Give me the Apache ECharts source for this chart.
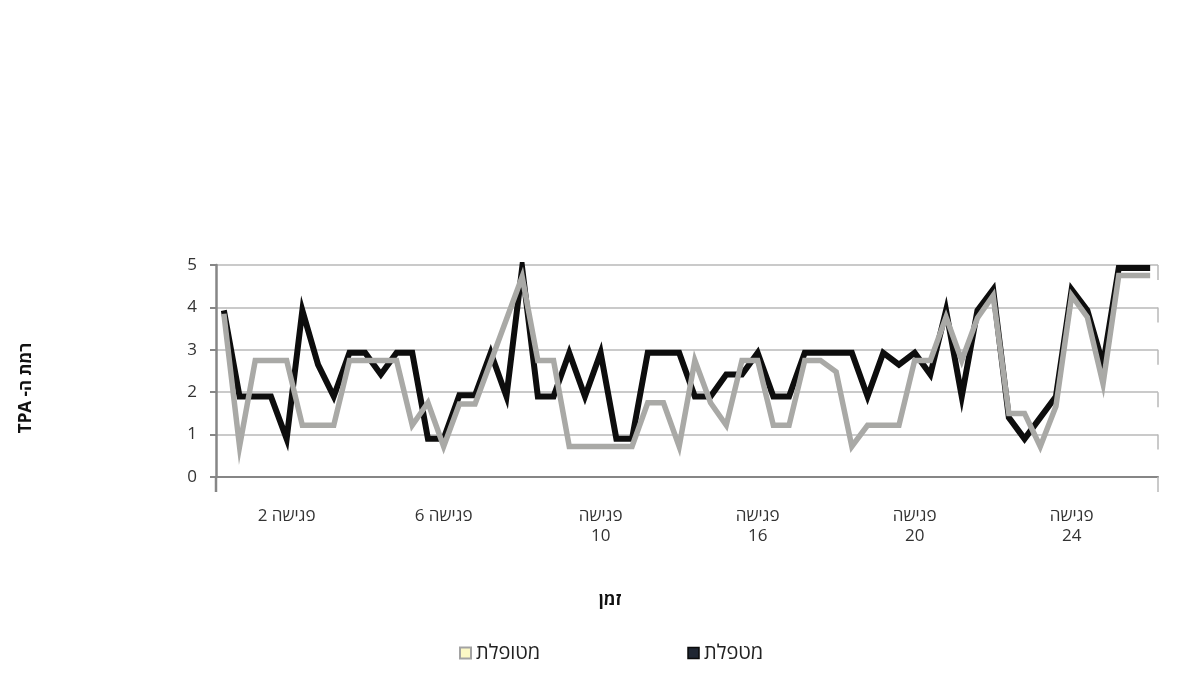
<!DOCTYPE html>
<html>
<head>
<meta charset="utf-8">
<script src="https://cdn.jsdelivr.net/npm/echarts@6/dist/echarts.min.js"></script>
<style>
  html, body { margin: 0; padding: 0; background: #ffffff; }
  #chart { width: 1200px; height: 693px; }
</style>
</head>
<body>
<div id="chart"></div>
<script>
// ---------- data ----------
const seriesNames = ['מטפלת', 'מטופלת'];
const legendOrder = ['מטופלת', 'מטפלת'];

// 60 time points (category slots)
const categories = [
  '1','2','3','4','5','6','7','8','9','10',
  '11','12','13','14','15','16','17','18','19','20',
  '21','22','23','24','25','26','27','28','29','30',
  '31','32','33','34','35','36','37','38','39','40',
  '41','42','43','44','45','46','47','48','49','50',
  '51','52','53','54','55','56','57','58','59','60'
];
// visible tick labels and the category slots where they sit
const tickLabels = ['פגישה 2', 'פגישה 6', 'פגישה\n10', 'פגישה\n16', 'פגישה\n20', 'פגישה\n24'];
const tickLabelSlots = [4, 14, 24, 34, 44, 54];

const therapist = [
  3.93, 1.90, 1.90, 1.90, 0.90, 3.93, 2.65, 1.90, 2.93, 2.93,
  2.42, 2.93, 2.93, 0.90, 0.90, 1.93, 1.93, 2.93, 1.90, 4.93,
  1.90, 1.90, 2.93, 1.90, 2.93, 0.90, 0.90, 2.93, 2.93, 2.93,
  1.90, 1.90, 2.42, 2.42, 2.93, 1.90, 1.90, 2.93, 2.93, 2.93,
  2.93, 1.90, 2.93, 2.65, 2.93, 2.42, 3.93, 1.90, 3.93, 4.42,
  1.40, 0.90, 1.40, 1.90, 4.42, 3.93, 2.65, 4.93, 4.93, 4.93
];
const patient = [
  3.85, 0.72, 2.75, 2.75, 2.75, 1.22, 1.22, 1.22, 2.75, 2.75,
  2.75, 2.75, 1.22, 1.75, 0.72, 1.72, 1.72, 2.72, 3.72, 4.72,
  2.75, 2.75, 0.72, 0.72, 0.72, 0.72, 0.72, 1.75, 1.75, 0.72,
  2.75, 1.75, 1.22, 2.75, 2.75, 1.22, 1.22, 2.75, 2.75, 2.48,
  0.72, 1.22, 1.22, 1.22, 2.75, 2.75, 3.77, 2.75, 3.75, 4.28,
  1.50, 1.50, 0.72, 1.67, 4.28, 3.77, 2.20, 4.75, 4.75, 4.75
];
const yTicks = [0, 1, 2, 3, 4, 5];
const yAxisTitle = 'רמת ה- TPA';
const xAxisTitle = 'זמן';

// ---------- helpers ----------
const RLE = '\u202B', PDF = '\u202C';
function rtl(s) { return s.split('\n').map(l => RLE + l + PDF).join('\n'); }

const FONT = '"Open Sans", "Liberation Sans", "DejaVu Sans", sans-serif';
const GRID = { left: 216, right: 42, top: 265, bottom: 216 };
const DEPTH = 15;
const AXIS_COLOR = '#868686';
const GRIDLINE_COLOR = '#b8b8b8';

const chart = echarts.init(document.getElementById('chart'), null, { renderer: 'canvas' });

const option = {
  backgroundColor: '#ffffff',
  animation: false,
  textStyle: { fontFamily: FONT },
  grid: { left: GRID.left, right: GRID.right, top: GRID.top, bottom: GRID.bottom, containLabel: false },
  legend: {
    left: 454,
    top: 636,
    padding: 5,
    itemWidth: 11,
    itemHeight: 11,
    itemGap: 147,
    textStyle: { fontFamily: FONT, fontSize: 20, color: '#222', lineHeight: 24 },
    data: [
      { name: legendOrder[0], icon: 'rect', itemStyle: { color: '#fcf8c6', borderColor: '#a3a3a3', borderWidth: 2 } },
      { name: legendOrder[1], icon: 'rect', itemStyle: { color: '#1f2632', borderColor: '#0a0a0a', borderWidth: 1.5 } }
    ]
  },
  xAxis: {
    type: 'category',
    data: categories,
    boundaryGap: true,
    offset: DEPTH,
    axisLine: { show: true, lineStyle: { color: AXIS_COLOR, width: 2 } },
    axisTick: { show: false },
    splitLine: { show: false },
    axisLabel: {
      interval: 0,
      margin: 14,
      fontFamily: FONT,
      fontSize: 17,
      lineHeight: 20,
      color: '#333',
      formatter: function (value, index) {
        const k = tickLabelSlots.indexOf(index);
        return k >= 0 ? rtl(tickLabels[k]) : '';
      }
    },
    name: xAxisTitle,
    nameLocation: 'middle',
    nameGap: 100,
    nameTextStyle: { fontFamily: FONT, fontSize: 17, fontWeight: 'bold', color: '#111', padding: [0, 154, 0, 0] }
  },
  yAxis: {
    type: 'value',
    min: 0,
    max: 5,
    interval: 1,
    axisLine: { show: true, lineStyle: { color: AXIS_COLOR, width: 2.5 } },
    axisTick: { show: true, length: 6, lineStyle: { color: AXIS_COLOR, width: 2 } },
    splitLine: { show: true, lineStyle: { color: GRIDLINE_COLOR, width: 1.5 } },
    axisLabel: {
      margin: 19,
      fontFamily: FONT,
      fontSize: 17,
      color: '#333',
      formatter: function (v) { return yTicks.indexOf(v) >= 0 ? String(v) : ''; }
    },
    name: rtl(yAxisTitle),
    nameLocation: 'middle',
    nameRotate: 90,
    nameGap: 181,
    nameTextStyle: { fontFamily: FONT, fontSize: 17, fontWeight: 'bold', color: '#111', padding: [0, 34, 0, 0] }
  },
  series: [
    {
      name: seriesNames[0],
      type: 'line',
      data: therapist,
      symbol: 'none',
      itemStyle: { color: '#111111' },
      lineStyle: { color: '#0d0d0d', width: 6, join: 'miter' },
      z: 2
    },
    {
      name: seriesNames[1],
      type: 'line',
      data: patient,
      symbol: 'none',
      itemStyle: { color: '#a8a8a8' },
      lineStyle: { color: '#a9a9a6', width: 5.5, join: 'miter' },
      z: 3
    }
  ]
};
chart.setOption(option);

// 3-D wall / floor decoration derived from the axes
const xLeft = GRID.left;
const xRight = 1200 - GRID.right;
const decor = [];
yTicks.forEach(function (v) {
  const y = chart.convertToPixel({ yAxisIndex: 0 }, v);
  decor.push({
    type: 'line', silent: true, z: 1,
    shape: { x1: xRight, y1: y, x2: xRight, y2: y + DEPTH },
    style: { stroke: GRIDLINE_COLOR, lineWidth: 1.5 }
  });
});
const y0 = chart.convertToPixel({ yAxisIndex: 0 }, 0);
decor.push({
  type: 'line', silent: true, z: 5,
  shape: { x1: xLeft, y1: y0 - 1, x2: xLeft, y2: y0 + DEPTH },
  style: { stroke: AXIS_COLOR, lineWidth: 2.5 }
});
chart.setOption({ graphic: decor });
</script>
</body>
</html>
